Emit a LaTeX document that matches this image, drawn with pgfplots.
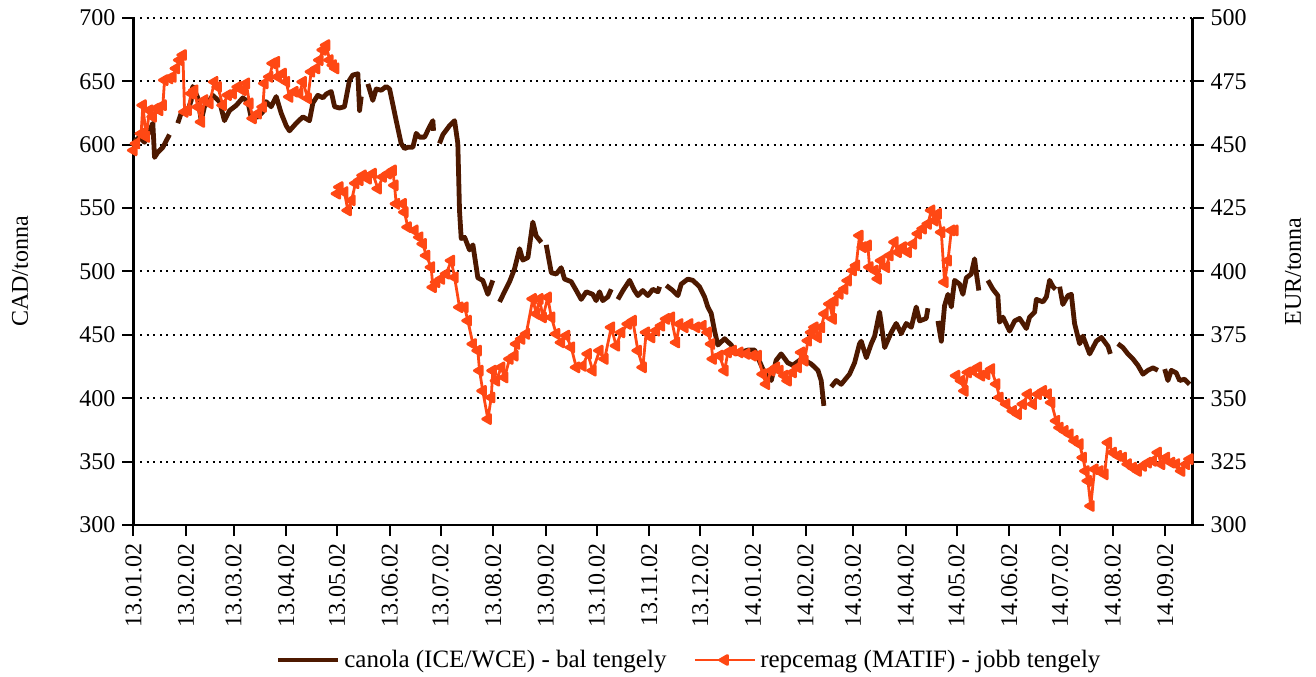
\documentclass[border=0pt]{standalone}
\usepackage{fontspec}
\setmainfont{Liberation Serif}
\usepackage{pgfplots}
\pgfplotsset{compat=1.18}
\definecolor{canola}{RGB}{77,25,0}
\definecolor{repce}{RGB}{255,72,20}
\newcommand{\lblfont}{\fontsize{12bp}{14bp}\selectfont}
\begin{document}
\begin{tikzpicture}[font=\lblfont]
\path[use as bounding box] (-66.75bp,-76bp) rectangle (591.25bp,262.5bp);
\begin{axis}[
  at={(0,0)}, anchor=south west, scale only axis,
  width=529.5bp, height=253.5bp,
  xmin=0, xmax=624, ymin=300, ymax=700,
  axis x line*=bottom, axis y line*=left,
  axis line style={black, line width=1.2bp},
  tick style={black, line width=1bp},
  tick align=outside, major tick length=5.5bp,
  xtick={0,31,59,90,120,151,181,212,243,273,304,334,365,396,424,455,485,516,546,577,608},
  xticklabels={13.01.02,13.02.02,13.03.02,13.04.02,13.05.02,13.06.02,13.07.02,13.08.02,13.09.02,13.10.02,13.11.02,13.12.02,14.01.02,14.02.02,14.03.02,14.04.02,14.05.02,14.06.02,14.07.02,14.08.02,14.09.02},
  xticklabel style={rotate=90, anchor=east, font=\lblfont},
  ytick={300,350,...,700},
  yticklabel style={font=\lblfont},
  /pgf/number format/assume math mode=true,
  ymajorgrids,
  grid style={black, line width=1bp, dash pattern=on 1bp off 2.3bp},
  every axis y label/.style={at={([xshift=-56.75bp]axis description cs:0,0.5)}, anchor=center, rotate=90, font=\lblfont},
  ylabel={CAD/tonna},
]
\addplot[canola, line width=2.4bp, line join=round, no marks, unbounded coords=jump] table {
x y
0 602
3.5 606
6.5 602
11.4 617
12.4 590
14.3 594
17.3 598
21.2 608
nan nan
26.1 617
28.1 625
32.0 627
34.0 635
34.9 646
37.9 637
39.9 619
41.8 630
44.8 635
46.7 639
50.7 634
53.6 619
56.6 627
60.5 631
64.4 637
67.4 634
69.4 621
73.3 622
76.2 626
78.2 634
81.1 630
84.1 638
87.0 625
90.0 615
91.9 611
95.9 617
99.8 622
103.7 619
105.7 633
108.6 639
111.6 637
113.6 640
116.5 642
118.5 630
121.4 629
124.3 630
127.3 651
129.2 655
132.2 656
133.2 627
134.2 638
nan nan
138.1 648
141.0 635
143.0 644
146.0 643
148.9 646
150.9 644
154.8 619
157.7 601
159.7 597
161.6 598
164.6 598
166.6 609
168.5 606
171.5 606
174.4 614
176.4 619
176.8 611
nan nan
180.3 601
182.3 608
186.2 615
189.2 619
191.1 601
192.1 548
193.1 526
195.1 527
198.0 517
200.0 521
202.9 495
205.8 493
208.8 482
211.7 493
nan nan
215.7 476
218.6 484
221.6 492
224.5 502
227.5 518
229.4 509
232.4 511
235.3 539
237.3 528
240.3 523
nan nan
243.2 521
246.2 499
249.1 498
252.0 503
254.0 494
257.9 492
260.9 485
263.8 478
266.8 484
270.6 482
272.6 477
274.6 484
276.5 477
279.5 480
281.5 486
nan nan
285.4 478
288.4 485
292.3 493
295.2 485
297.2 481
300.1 485
303.1 481
306.0 486
309.0 484
310.0 488
nan nan
313.9 489
317.8 485
320.8 481
322.7 490
326.6 494
329.6 493
333.5 488
336.5 480
338.4 472
340.4 467
342.4 453
344.3 442
348.3 447
352.2 442
355.1 435
362.0 438
366.0 438
371.8 420
375.8 414
378.7 430
381.6 435
385.5 428
388.5 426
392.5 430
395.4 430
399.4 427
403.3 422
405.2 414
406.8 394
nan nan
411.1 409
414.1 414
417.0 411
421.9 419
424.9 428
427.8 443
428.8 445
431.8 432
434.7 443
436.7 449
439.6 468
442.6 440
446.5 452
449.4 459
452.4 451
455.3 459
458.3 456
461.2 472
463.2 461
467.1 463
468.1 471
nan nan
474.0 461
476.0 445
477.9 473
479.9 482
481.9 472
483.8 493
486.8 490
488.7 482
490.7 495
493.6 498
495.6 510
496.6 499
498.1 485
nan nan
503.4 493
506.4 486
509.3 481
510.3 460
512.3 464
516.2 453
519.2 461
522.1 463
526.1 455
528.0 464
531.0 468
532.0 478
535.9 476
537.9 480
539.8 493
541.8 488
543.3 486
nan nan
545.7 488
547.6 474
550.6 481
552.6 482
554.5 459
557.5 443
559.4 449
563.4 435
567.3 445
570.3 448
574.2 441
575.6 435
nan nan
580.0 443
583.0 440
585.9 435
588.9 431
591.8 426
594.8 419
597.7 422
600.7 424
603.6 422
nan nan
607.6 423
609.5 414
611.5 422
614.4 420
616.4 414
619.3 415
622.3 411
};
\end{axis}
\begin{axis}[
  at={(0,0)}, anchor=south west, scale only axis,
  width=529.5bp, height=253.5bp,
  xmin=0, xmax=624, ymin=300, ymax=500,
  axis x line=none, axis y line*=right,
  axis line style={black, line width=1.2bp},
  tick style={black, line width=1bp},
  tick align=outside, major tick length=5.5bp,
  ytick={300,325,...,500},
  yticklabel style={font=\lblfont},
  /pgf/number format/assume math mode=true,
  every axis y label/.style={at={([xshift=50.25bp]axis description cs:1,0.5)}, anchor=center, rotate=90, font=\lblfont},
  ylabel={EUR/tonna},
  legend columns=2,
  legend style={draw=none, fill=none, at={(axis description cs:0.5,0)}, anchor=center, xshift=13.5bp, yshift=-67.5bp, font=\fontsize{12.5bp}{14bp}\selectfont, /tikz/every even column/.append style={column sep=11.5bp}},
  legend image code/.code={\draw[mark repeat=2,mark phase=2,#1] plot coordinates {(0bp,0bp) (15bp,0bp) (30bp,0bp)};},
]
\addlegendimage{canola, line width=2.4bp}
\addlegendentry{canola (ICE/WCE) - bal tengely}
\addplot[repce, line width=1.4bp, line join=round, mark=triangle*, mark size=2.6bp, mark options={rotate=90, solid, fill=repce}, unbounded coords=jump] table {
x y
0 447.8
1.6 450.5
4.5 454.4
5.5 465.6
7.5 453.1
9.4 463.6
11.4 461.0
13.4 464.3
15.3 463.6
17.3 465.6
18.3 475.5
21.2 476.2
23.1 476.8
25.1 480.1
27.1 483.4
29.1 485.4
30.1 463.0
32.0 463.6
34.0 470.2
35.9 471.5
37.9 464.9
39.9 459.0
41.8 467.6
44.8 466.3
47.7 474.8
49.7 472.8
52.6 465.6
55.6 469.6
58.5 470.2
61.5 472.8
64.4 471.5
66.4 474.2
68.4 466.3
70.3 460.4
73.3 462.3
76.2 464.9
77.2 474.2
80.1 476.8
82.1 482.1
84.1 482.7
85.0 476.8
88.0 478.1
90.0 474.8
91.9 468.9
94.9 470.9
97.8 470.2
99.8 474.8
102.7 468.3
104.7 478.8
107.7 480.1
109.6 483.4
111.6 487.4
113.6 489.3
115.5 483.4
117.5 481.4
119.0 480.1
nan nan
120.0 430.7
121.4 433.3
124.3 431.3
126.3 424.1
128.5 428.1
130.8 434.8
133.2 436.0
135.1 437.9
138.1 436.6
141.0 438.6
144.0 432.7
146.9 437.3
149.9 438.6
152.8 439.9
153.8 434.0
154.8 426.7
158.7 426.7
159.7 423.4
161.6 417.5
165.6 416.2
168.5 413.5
170.5 410.9
172.5 406.3
175.4 401.7
176.4 393.8
178.4 395.8
181.3 397.1
184.3 399.1
187.2 404.3
189.2 397.7
192.1 385.9
195.1 385.9
197.0 380.6
200.0 371.4
202.9 368.8
203.9 360.9
205.8 352.9
208.8 341.8
210.8 350.3
211.7 360.9
213.7 356.9
216.7 362.2
218.6 358.2
221.6 365.5
224.5 366.8
225.5 371.4
228.5 373.4
231.4 375.4
235.3 389.2
237.3 383.3
239.3 389.2
241.2 381.9
244.1 389.8
246.2 381.9
249.1 375.4
252.0 372.0
255.0 374.7
257.9 370.1
260.9 362.2
264.7 362.8
267.7 367.5
270.6 360.9
274.6 368.8
277.6 365.5
281.5 378.0
284.4 370.7
287.4 376.0
291.3 379.3
294.2 380.6
297.2 368.8
300.1 362.2
302.1 376.0
305.1 374.0
308.0 376.7
310.9 378.6
313.9 381.3
316.8 381.9
319.8 372.0
321.7 379.3
324.7 378.0
327.6 379.3
331.6 378.0
335.4 378.6
338.4 376.0
340.4 371.4
341.4 365.5
345.3 366.8
348.3 360.9
350.2 368.1
353.2 368.8
357.1 368.1
361.1 367.5
365.0 366.8
367.9 366.8
370.8 359.5
372.8 355.6
375.8 360.9
378.7 362.2
380.7 360.9
383.6 358.9
385.5 356.9
388.5 360.2
391.5 362.2
393.5 368.1
395.4 364.8
397.4 372.7
399.4 376.0
401.3 378.0
403.3 374.0
405.2 378.0
407.2 383.3
410.1 387.2
412.1 381.3
413.1 388.5
416.0 391.2
418.9 393.1
420.9 396.4
423.9 400.4
425.8 402.4
427.8 414.2
429.8 409.6
432.7 410.3
433.7 401.7
436.7 400.4
438.6 397.1
440.6 404.3
443.5 401.7
445.5 406.3
448.5 411.6
450.4 407.6
453.4 409.6
456.3 407.6
459.3 410.9
462.2 414.9
465.1 416.9
468.1 418.8
470.1 424.1
472.0 420.1
474.0 422.8
476.0 415.5
477.9 395.8
479.9 404.3
481.9 416.2
483.8 416.2
nan nan
484.8 358.9
487.7 356.9
489.7 352.9
491.7 360.2
494.6 360.9
497.6 362.2
499.5 358.9
502.5 359.5
505.4 361.5
508.4 355.6
510.3 350.3
514.3 347.7
518.2 345.0
521.1 343.7
524.1 347.7
527.0 351.6
530.0 347.7
532.9 351.6
535.9 352.9
538.8 351.6
540.8 348.3
543.7 341.1
545.7 338.4
548.6 337.1
551.6 335.8
554.5 333.2
557.5 331.9
559.4 326.6
561.0 321.3
562.4 317.4
564.0 307.5
566.3 322.0
569.3 321.3
572.2 320.0
574.2 332.5
577.1 328.6
580.1 327.3
583.0 326.6
585.9 324.0
588.9 322.6
591.8 321.3
594.8 323.3
597.7 324.6
600.7 325.3
603.6 328.6
605.6 324.0
608.5 326.6
611.5 324.6
614.4 324.0
617.4 321.3
620.3 324.0
622.3 326.0
};
\addlegendentry{repcemag (MATIF) - jobb tengely}
\end{axis}
\end{tikzpicture}
\end{document}
